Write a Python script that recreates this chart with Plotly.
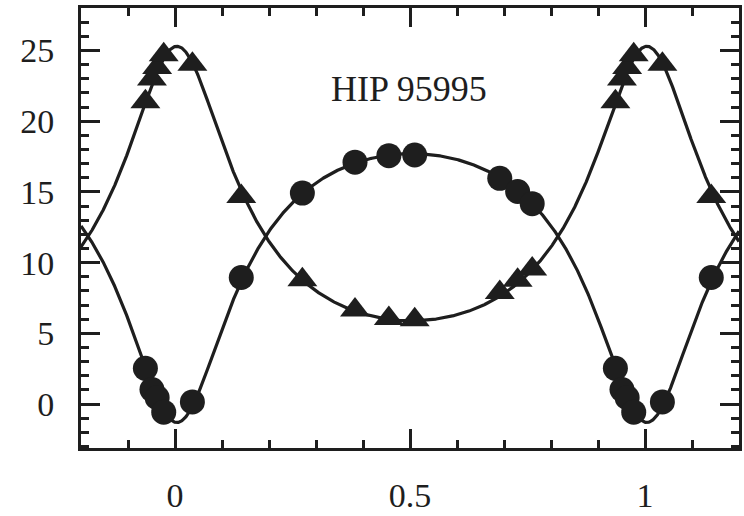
import numpy as np
import plotly.graph_objects as go

# Orbital phase of each observation and the measured radial velocities (km/s)
phase = [0.037, 0.141, 0.271, 0.383, 0.455, 0.510, 0.691, 0.729, 0.760,
         0.937, 0.951, 0.962, 0.976]
rv_primary = [24.02, 14.68, 8.80, 6.65, 6.05, 5.96, 7.89, 8.76, 9.56,
              21.38, 22.99, 23.80, 24.70]
rv_secondary = [0.16, 8.95, 14.92, 17.10, 17.56, 17.61, 15.96, 15.03, 14.17,
                2.53, 1.03, 0.46, -0.57]

# Spectroscopic orbit elements
gamma = 11.86      # systemic velocity
K1 = 9.70          # primary semi-amplitude
K2 = 9.50          # secondary semi-amplitude
ecc = 0.385
omega_deg = 0.0    # argument of periastron of the primary
T0_phase = 0.004   # phase of periastron passage

x_tick_vals = [0, 0.5, 1]
x_tick_text = ["0", "0.5", "1"]
y_tick_vals = [0, 5, 10, 15, 20, 25]
label = "HIP 95995"

INK = "#1e1e1e"
FONT = "Liberation Serif"


def true_anomaly(ph):
    M = 2 * np.pi * (np.asarray(ph) - T0_phase)
    E = M.copy()
    for _ in range(50):
        E = E - (E - ecc * np.sin(E) - M) / (1 - ecc * np.cos(E))
    return 2 * np.arctan2(np.sqrt(1 + ecc) * np.sin(E / 2),
                          np.sqrt(1 - ecc) * np.cos(E / 2))


def rv_curve(ph, K, w):
    nu = true_anomaly(ph)
    return gamma + K * (np.cos(nu + w) + ecc * np.cos(w))


w1 = np.radians(omega_deg)
ph_model = np.linspace(-0.2, 1.2, 1401)
curve1 = rv_curve(ph_model, K1, w1)
curve2 = rv_curve(ph_model, K2, w1 + np.pi)

# Repeat phased points outside [0, 1) so the plotted window -0.2..1.2 is filled
ph_all, v1_all, v2_all = [], [], []
for p, a, b in zip(phase, rv_primary, rv_secondary):
    for shift in (-1, 0, 1):
        q = p + shift
        if -0.2 <= q <= 1.2:
            ph_all.append(q)
            v1_all.append(a)
            v2_all.append(b)

fig = go.Figure()
fig.add_trace(go.Scatter(x=ph_model, y=curve1, mode="lines",
                         line=dict(color=INK, width=3.2), hoverinfo="skip"))
fig.add_trace(go.Scatter(x=ph_model, y=curve2, mode="lines",
                         line=dict(color=INK, width=3.2), hoverinfo="skip"))
fig.add_trace(go.Scatter(x=ph_all, y=v1_all, mode="markers",
                         marker=dict(symbol="triangle-up", size=26, color=INK,
                                     line=dict(width=0)),
                         name="primary"))
fig.add_trace(go.Scatter(x=ph_all, y=v2_all, mode="markers",
                         marker=dict(symbol="circle", size=25, color=INK,
                                     line=dict(width=0)),
                         name="secondary"))

fig.add_annotation(x=0.497, y=22.3, text=label, showarrow=False,
                   xanchor="center", yanchor="middle",
                   font=dict(family=FONT, size=36, color=INK))

axis_common = dict(
    showline=True, linewidth=3, linecolor=INK, mirror="ticks",
    ticks="inside", tickwidth=3, tickcolor=INK, ticklen=19,
    showgrid=False, zeroline=False,
    tickfont=dict(family=FONT, size=34, color=INK),
)

fig.update_xaxes(range=[-0.2, 1.2], tickvals=x_tick_vals, ticktext=x_tick_text,
                 ticklabelstandoff=15,
                 minor=dict(dtick=0.1, ticks="inside", ticklen=8, tickwidth=2.5,
                            tickcolor=INK, showgrid=False),
                 **axis_common)
fig.update_yaxes(range=[-3.1, 28], tickvals=y_tick_vals,
                 ticklabelstandoff=17,
                 minor=dict(dtick=1, ticks="inside", ticklen=8, tickwidth=2.5,
                            tickcolor=INK, showgrid=False),
                 **axis_common)

fig.update_layout(width=744, height=516, showlegend=False,
                  margin=dict(l=81, r=2, t=8, b=56),
                  paper_bgcolor="white", plot_bgcolor="white")

fig.write_html("out.html")
